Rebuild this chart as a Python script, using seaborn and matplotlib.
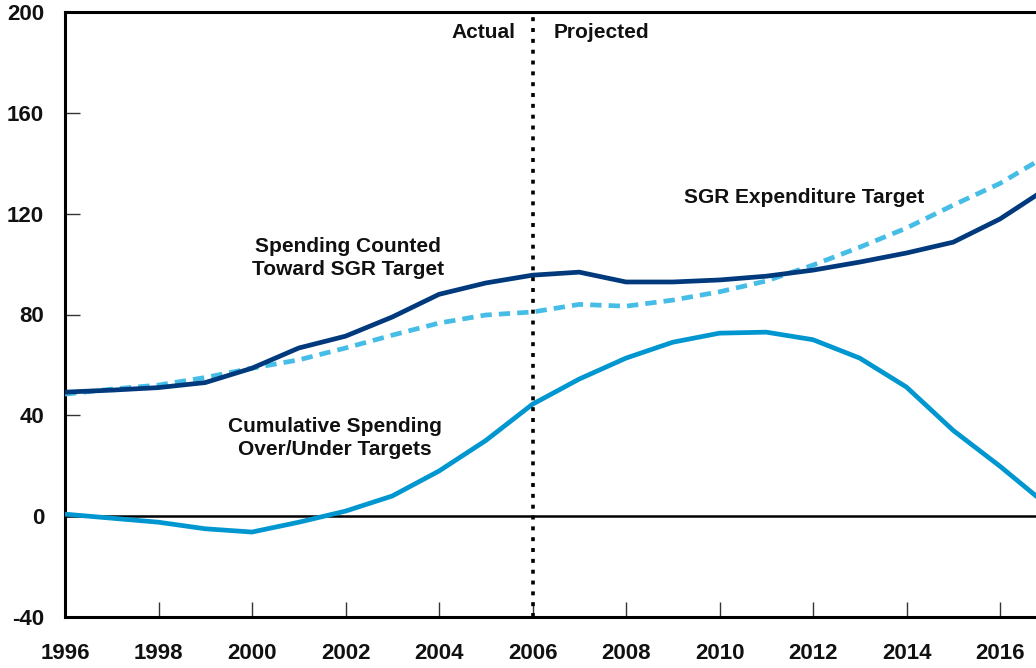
import pandas as pd
import matplotlib
matplotlib.use("Agg")
import matplotlib.pyplot as plt
import seaborn as sns

years = list(range(1996, 2018))
spending = [49.2, 50.0, 51.0, 53.0, 58.7, 66.7, 71.4, 79.0, 88.0, 92.5, 95.6,
            96.8, 92.9, 92.9, 93.7, 95.2, 97.6, 100.8, 104.4, 108.7, 117.9, 130.0]
target = [48.4, 50.4, 52.0, 55.0, 58.7, 62.0, 66.7, 71.8, 76.6, 79.8, 81.0,
          84.0, 83.3, 85.7, 89.0, 93.3, 99.6, 106.7, 114.3, 123.4, 132.0, 143.0]
cumulative = [0.8, -0.8, -2.4, -5.0, -6.3, -2.4, 2.0, 8.0, 17.9, 30.0, 44.4,
              54.4, 62.7, 69.0, 72.6, 73.0, 70.0, 62.7, 51.2, 34.0, 19.8, 4.5]

df = pd.DataFrame({'Year': years, 'Spending': spending,
                   'Target': target, 'Cumulative': cumulative})

sns.set_style("white")
plt.rcParams['font.family'] = ['Liberation Sans', 'DejaVu Sans']
plt.rcParams['font.weight'] = 'bold'
plt.rcParams['axes.unicode_minus'] = False

fig = plt.figure(figsize=(10.36, 6.68), dpi=100)
ax = fig.add_axes([65 / 1036, 1 - 617 / 668, 1 - 65 / 1036, (617 - 12) / 668])

navy = '#003a7d'
light = '#45bde6'
mid = '#0096d0'

sns.lineplot(data=df, x='Year', y='Target', ax=ax, color=light, linewidth=3.4,
             zorder=3)
ax.lines[-1].set_dashes((2.4, 1.5))
sns.lineplot(data=df, x='Year', y='Spending', ax=ax, color=navy, linewidth=3.4, zorder=4)
sns.lineplot(data=df, x='Year', y='Cumulative', ax=ax, color=mid, linewidth=3.4, zorder=4)

ax.axhline(0, color='black', linewidth=1.8, zorder=2)
ax.axvline(2006, color='black', linewidth=2.6, linestyle=(0, (1.1, 1.9)), zorder=5)

ax.set_xlim(1996, 2016.77)
ax.set_ylim(-40, 200)
ax.set_xticks(range(1996, 2017, 2))
ax.set_yticks(range(-40, 201, 40))
ax.set_xlabel('')
ax.set_ylabel('')

for side in ['left', 'bottom', 'top']:
    ax.spines[side].set_visible(True)
    ax.spines[side].set_color('black')
    ax.spines[side].set_linewidth(2.2)
ax.spines['right'].set_visible(False)

ax.tick_params(axis='both', which='major', direction='in', length=11, width=1,
               color='#333333', labelsize=16, labelcolor='#111111',
               left=True, bottom=True)
ax.tick_params(axis='x', pad=19)
ax.tick_params(axis='y', pad=15)
for lab in ax.get_xticklabels() + ax.get_yticklabels():
    lab.set_fontweight('bold')

txt = dict(fontsize=15, fontweight='bold', color='#111111')
ax.text(2005.63, 192, 'Actual', ha='right', va='center', **txt)
ax.text(2006.46, 192, 'Projected', ha='left', va='center', **txt)
ax.text(2009.24, 126.6, 'SGR Expenditure Target', ha='left', va='center', **txt)
ax.text(2002.05, 102.4, 'Spending Counted\nToward SGR Target', ha='center',
        va='center', linespacing=1.25, **txt)
ax.text(2001.78, 31, 'Cumulative Spending\nOver/Under Targets', ha='center',
        va='center', linespacing=1.25, **txt)

fig.savefig('out.png', dpi=100)
